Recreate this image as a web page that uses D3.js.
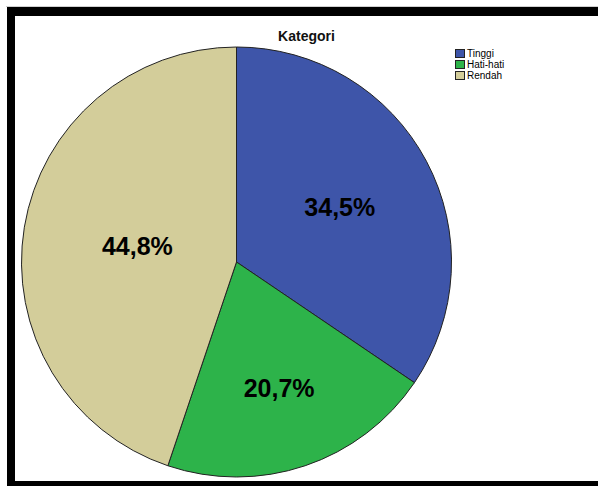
<!DOCTYPE html>
<html>
<head>
<meta charset="utf-8">
<script src="https://cdn.jsdelivr.net/npm/d3@7"></script>
<style>
  body { margin: 0; background: #fff; }
  svg { display: block; font-family: Arial, "Liberation Sans", sans-serif; }
</style>
</head>
<body>
<svg id="chart" width="598" height="486"></svg>
<script>
// counts per category (29 respondents)
const categories = ["Tinggi", "Hati-hati", "Rendah"];
const counts = [10, 6, 13];
const colors = ["#3e55a9", "#2db34a", "#d3cd9a"];

const svg = d3.select("#chart");

// frame around the chart (right side is cropped in the source)
svg.append("rect").attr("x", 6).attr("y", 6).attr("width", 592).attr("height", 1).attr("fill", "#d0d0d0");
svg.append("rect").attr("x", 7).attr("y", 7).attr("width", 591).attr("height", 9).attr("fill", "#000");
svg.append("rect").attr("x", 7).attr("y", 7).attr("width", 8).attr("height", 479).attr("fill", "#000");
svg.append("rect").attr("x", 7).attr("y", 481).attr("width", 591).attr("height", 5).attr("fill", "#000");

// title
svg.append("text")
    .attr("x", 306.5)
    .attr("y", 41)
    .attr("text-anchor", "middle")
    .style("font-size", "14px")
    .style("font-weight", "bold")
    .style("fill", "#111")
    .text("Kategori");

// pie
const cx = 236.5, cy = 262, radius = 215;
const total = d3.sum(counts);
const data = categories.map((c, i) => ({ name: c, value: counts[i], color: colors[i] }));

const pie = d3.pie().sort(null).value(d => d.value);
const arc = d3.arc().innerRadius(0).outerRadius(radius);

const g = svg.append("g").attr("transform", `translate(${cx},${cy})`);

g.selectAll("path")
    .data(pie(data))
    .enter().append("path")
    .attr("d", arc)
    .attr("fill", d => d.data.color)
    .attr("stroke", "#222")
    .attr("stroke-width", 1);

const fmt = v => (Math.round(v / total * 1000) / 10).toFixed(1).replace(".", ",") + "%";

// labels sit at the area centroid of each sector
function labelPos(d) {
    const half = (d.endAngle - d.startAngle) / 2;
    const mid = d.startAngle + half;
    const r = 2 * radius * Math.sin(half) / (3 * half);
    return [r * Math.sin(mid), -r * Math.cos(mid)];
}

g.selectAll("text.lbl")
    .data(pie(data))
    .enter().append("text")
    .attr("class", "lbl")
    .attr("transform", d => `translate(${labelPos(d)})`)
    .attr("text-anchor", "middle")
    .attr("dy", "0.36em")
    .style("font-size", "25px")
    .style("font-weight", "bold")
    .style("fill", "#000")
    .text(d => fmt(d.data.value));

// legend
const legend = svg.append("g").attr("transform", "translate(455,49)");
const item = legend.selectAll("g")
    .data(data)
    .enter().append("g")
    .attr("transform", (d, i) => `translate(0,${i * 11})`);
item.append("rect")
    .attr("x", 0.5).attr("y", 0.5)
    .attr("width", 9).attr("height", 8)
    .attr("fill", d => d.color)
    .attr("stroke", "#222");
item.append("text")
    .attr("x", 12)
    .attr("y", 8)
    .style("font-size", "10px")
    .text(d => d.name);
</script>
</body>
</html>
